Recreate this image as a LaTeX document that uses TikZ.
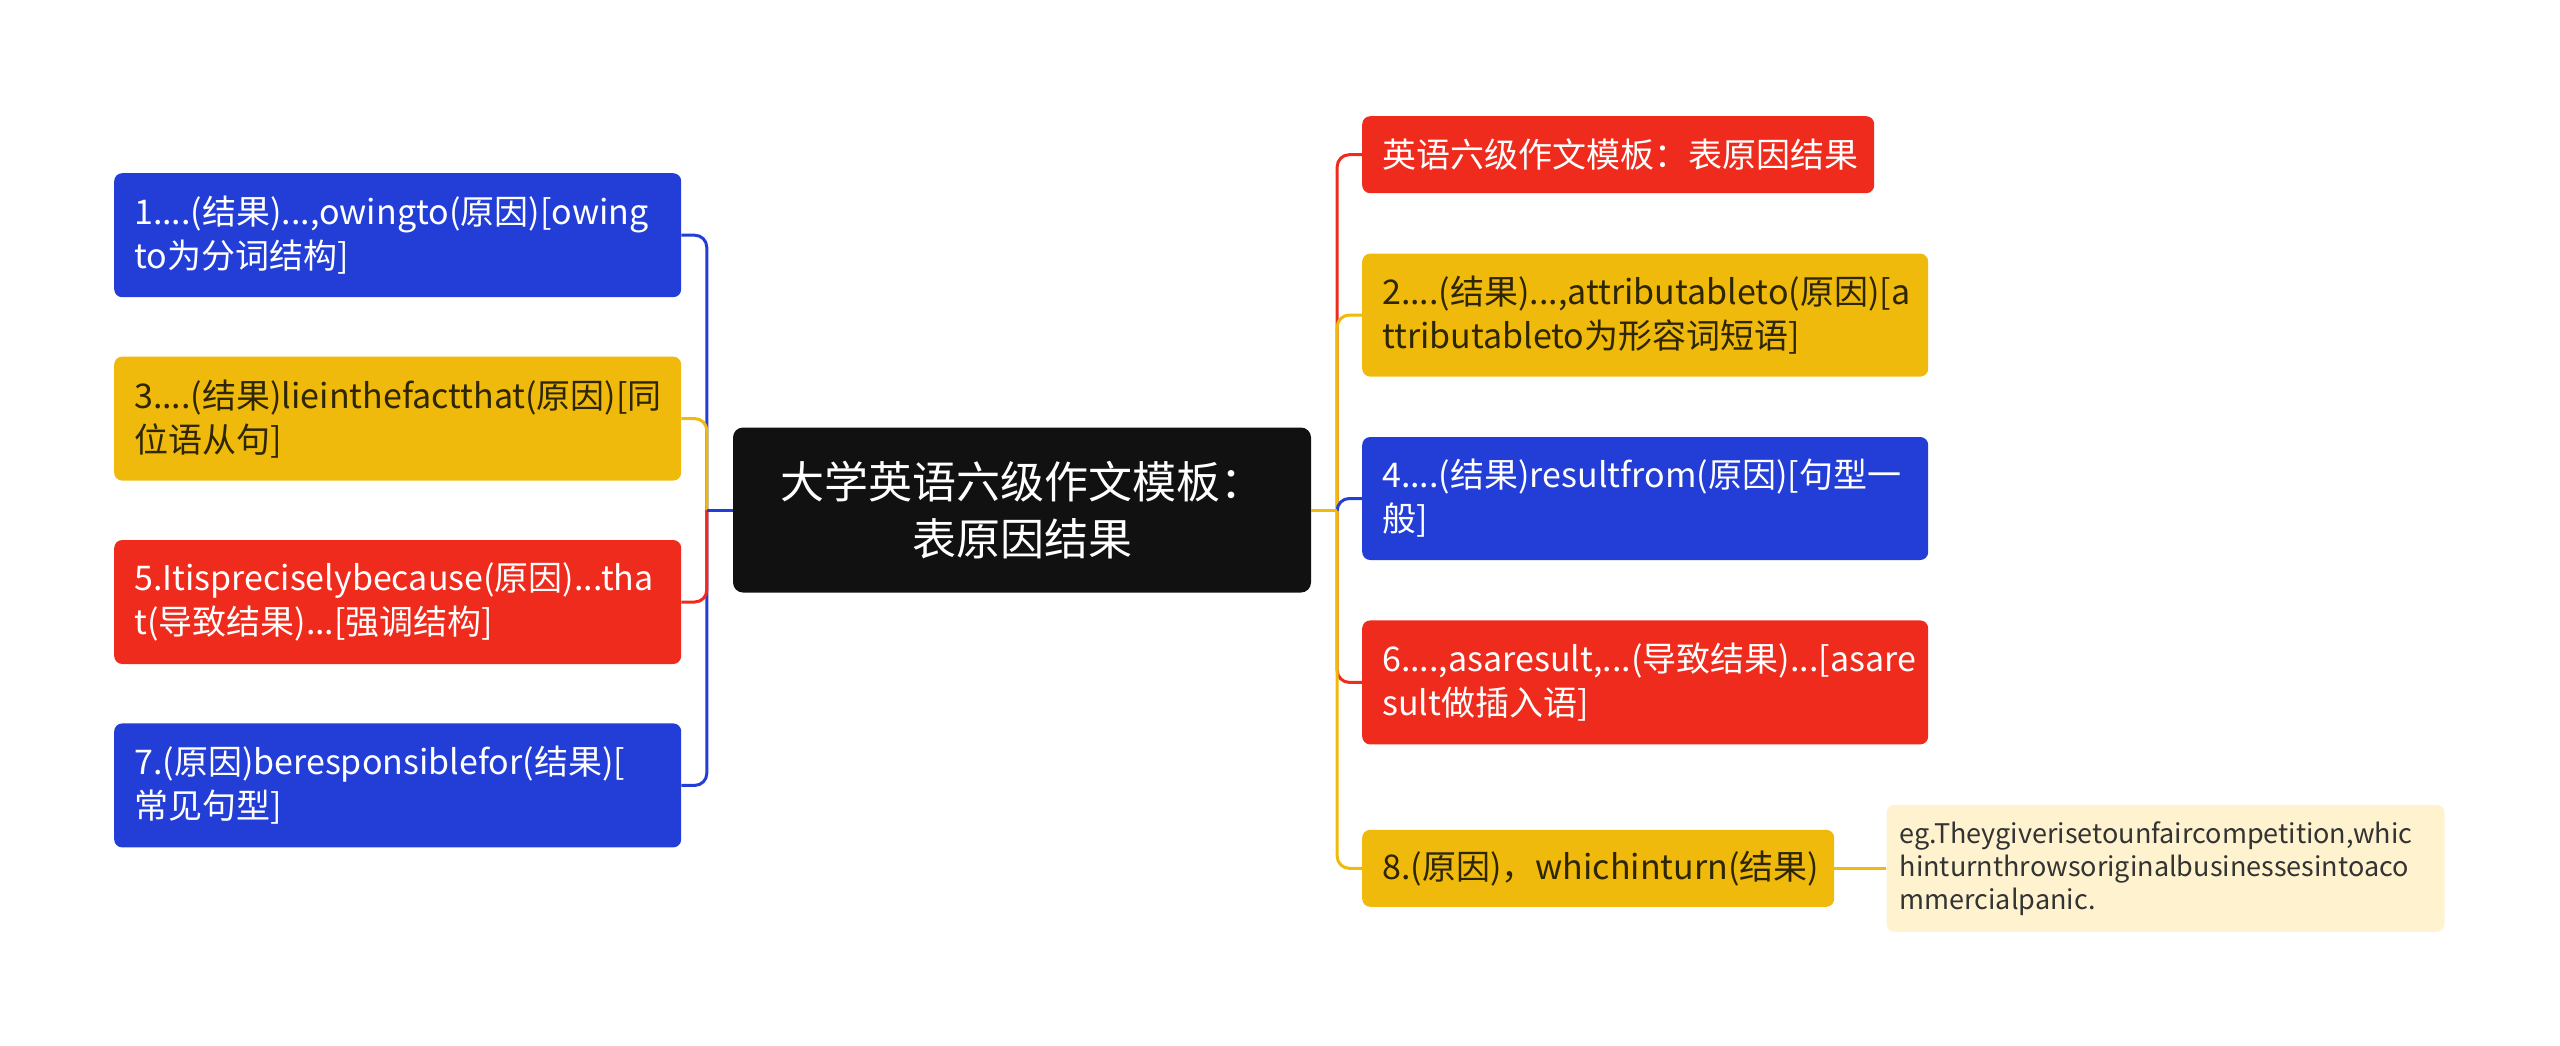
\documentclass[tikz,border=0pt]{standalone}
\usepackage{fontspec}
\setmainfont{Noto Sans CJK SC}
\usetikzlibrary{positioning}

\definecolor{mapred}{HTML}{EE2B1C}
\definecolor{mapblue}{HTML}{233ED6}
\definecolor{mapyellow}{HTML}{F0BA0C}
\definecolor{mapnote}{HTML}{FFF3CF}
\definecolor{mapdark}{HTML}{111111}
\definecolor{yeltext}{HTML}{2E2600}
\definecolor{notetext}{HTML}{333333}

\begin{document}
\begin{tikzpicture}
		[x=1pt, y=-1pt,
		branch/.style={rectangle, rounded corners=8pt, inner xsep=20pt, inner ysep=0pt,
			text width=#1, align=left, minimum height=124pt,
			font=\fontsize{34}{44}\selectfont},
		redbox/.style={fill=mapred, text=white},
		bluebox/.style={fill=mapblue, text=white},
		yellowbox/.style={fill=mapyellow, text=yeltext},
		link/.style={line width=3pt, rounded corners=12pt}]
		\useasboundingbox (0,0) rectangle (2560,1045);

		% root
		\node[rectangle, rounded corners=10pt, fill=mapdark, text=white, align=center,
			minimum width=578pt, minimum height=165pt,
			font=\fontsize{44}{57}\selectfont] (root) at (1022,510) {大学英语六级作文模板：\\表原因结果};

		% left side
		\node[branch=527pt, bluebox, anchor=north west] (n1) at (114,173) {1....(结果)...,owingto(原因)[owing\\to为分词结构]};
		\node[branch=527pt, yellowbox, below=59pt of n1] (n3) {3....(结果)lieinthefactthat(原因)[同\\位语从句]};
		\node[branch=527pt, redbox, below=59pt of n3] (n5) {5.Itispreciselybecause(原因)...tha\\t(导致结果)...[强调结构]};
		\node[branch=527pt, bluebox, below=59pt of n5] (n7) {7.(原因)beresponsiblefor(结果)[\\常见句型]};

		% right side
		\node[branch=472pt, redbox, minimum height=77pt, anchor=north west] (r1) at (1362,116) {英语六级作文模板：表原因结果};
		\node[branch=526pt, yellowbox, minimum height=123pt, below=60pt of r1.south west, anchor=north west] (r2) {2....(结果)...,attributableto(原因)[a\\ttributableto为形容词短语]};
		\node[branch=526pt, bluebox, minimum height=123pt, below=60pt of r2.south west, anchor=north west] (r4) {4....(结果)resultfrom(原因)[句型一\\般]};
		\node[branch=526pt, redbox, below=60pt of r4.south west, anchor=north west] (r6) {6....,asaresult,...(导致结果)...[asare\\sult做插入语]};
		\node[branch=432pt, yellowbox, minimum height=77pt, below=85pt of r6.south west, anchor=north west] (r8) {8.(原因)，whichinturn(结果)};
		\node[rectangle, rounded corners=8pt, fill=mapnote, text=notetext, inner xsep=13pt, inner ysep=0pt,
			text width=532pt, align=left, minimum height=127pt,
			font=\fontsize{27}{33}\selectfont, right=52pt of r8] (eg) {eg.Theygiverisetounfaircompetition,whic\\hinturnthrowsoriginalbusinessesintoaco\\mmercialpanic.};

		% spines
		\path (root.west) ++(-26,0) coordinate (lspine);
		\path (root.east) ++(26,0) coordinate (rspine);

		\draw[link, mapblue] (lspine) |- (n1.east);
		\draw[link, mapblue] (lspine) |- (n7.east);
		\draw[link, mapyellow] (lspine) |- (n3.east);
		\draw[link, mapred] (lspine) |- (n5.east);
		\draw[link, mapblue] (root.west) -- (lspine);

		\draw[link, mapred] (rspine) |- (r1.west);
		\draw[link, mapred] (rspine) |- (r6.west);
		\draw[link, mapyellow] (rspine) |- (r2.west);
		\draw[link, mapyellow] (rspine) |- (r8.west);
		\draw[link, mapblue] (rspine) |- (r4.west);
		\draw[link, mapyellow] (root.east) -- (rspine);

		\draw[link, mapyellow] (r8.east) -- (eg.west);
	\end{tikzpicture}
\end{document}
